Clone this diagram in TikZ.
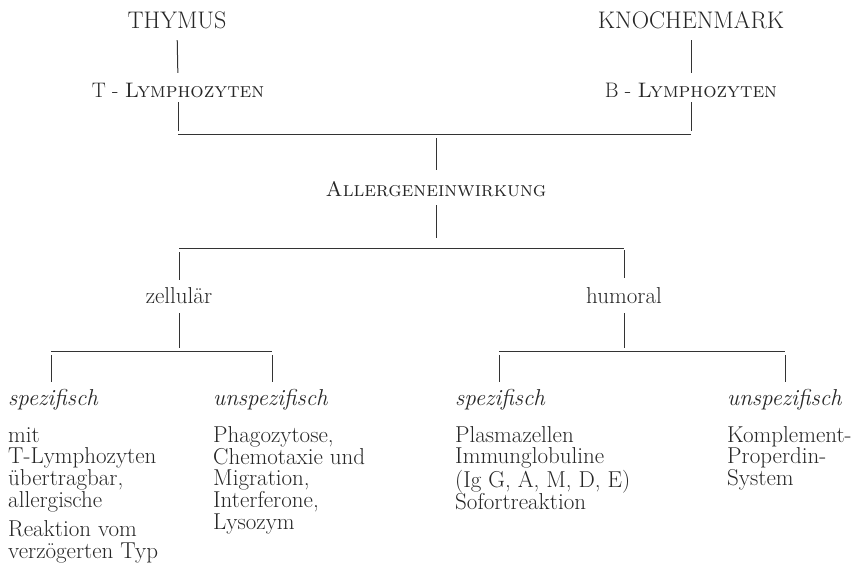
\documentclass[tikz,border=0pt]{standalone}
\usepackage{fontspec}
\newcommand{\blockrows}[1]{{\renewcommand{\arraystretch}{0.9}\begin{tabular}[t]{@{}l@{}}#1\end{tabular}}}
\begin{document}
\begin{tikzpicture}[x=1pt,y=-1pt,
  lbl/.style={inner sep=0pt, text=black!85, font=\fontsize{23}{22}\selectfont, text height=15pt, text depth=0pt, anchor=base},
  sclbl/.style={lbl, font=\fontsize{21}{22}\selectfont},
  big/.style={lbl, font=\fontsize{24}{24}\selectfont},
  head/.style={inner sep=0pt, text=black!85, font=\fontsize{23}{22}\selectfont\itshape, text height=15pt, text depth=0pt, anchor=base west},
  body/.style={inner sep=0pt, text=black!85, font=\fontsize{23}{22}\selectfont, anchor=base west},
  conn/.style={draw=black!80, line width=1pt}]
\useasboundingbox (0,0) rectangle (858,574);

% top sources
\node[big] (thymus) at (177,28) {THYMUS};
\node[big] (knochen) at (691,28) {KNOCHENMARK};
\node[sclbl] (tly) at (178,97) {T - \textsc{Lymphozyten}};
\node[sclbl] (bly) at (691,97) {B - \textsc{Lymphozyten}};
\node[sclbl] (allerg) at (436,196) {\textsc{Allergeneinwirkung}};
\node[lbl] (zell) at (179,303) {zellulär};
\node[lbl] (hum) at (624,303) {humoral};

% headings
\node[head] (sl) at (8,405) {spezifisch};
\node[head] (ul) at (213,405) {unspezifisch};
\node[head] (sr) at (455,405) {spezifisch};
\node[head] (ur) at (727,405) {unspezifisch};

% bodies
\node[body] (bsl) at (8,442) {\blockrows{mit\\T-Lymphozyten\\übertragbar,\\allergische\\[7pt]Reaktion vom\\verzögerten Typ}};
\node[body] (bul) at (213,442) {\blockrows{Phagozytose,\\Chemotaxie und\\Migration,\\Interferone,\\Lysozym}};
\node[body] (bsr) at (455,442) {\blockrows{Plasmazellen\\Immunglobuline\\(Ig G, A, M, D, E)\\Sofortreaktion}};
\node[body] (bur) at (727,442) {\blockrows{Komplement-\\Properdin-\\System}};

% junction coordinates
\coordinate (j1l) at (178,134);
\coordinate (j1r) at (691,134);
\coordinate (j1m) at (436,134);
\coordinate (j2l) at (179,248);
\coordinate (j2r) at (624,248);
\coordinate (j2m) at (436,248);
\coordinate (j3l) at (51,351);
\coordinate (j3r) at (272,351);
\coordinate (j3m) at (179,351);
\coordinate (j4l) at (499,351);
\coordinate (j4r) at (785,351);
\coordinate (j4m) at (624,351);

% connectors
\draw[conn, shorten <=12pt, shorten >=9pt] (thymus.south) -- (tly.north);
\draw[conn, shorten <=12pt, shorten >=9pt] (knochen.south) -- (bly.north);
\draw[conn, shorten <=5pt, shorten >=3pt] (tly.south) -- (j1l);
\draw[conn, shorten <=5pt, shorten >=3pt] (bly.south) -- (j1r);
\draw[conn] (j1l) -- (j1r);
\draw[conn, shorten <=4pt, shorten >=11pt] (j1m) -- (allerg.north);
\draw[conn, shorten <=9pt, shorten >=10pt] (allerg.south) -- (j2m);
\draw[conn] (j2l) -- (j2r);
\draw[conn, shorten <=4pt, shorten >=8pt] (j2l) -- (zell.north);
\draw[conn, shorten <=2pt, shorten >=10pt] (j2r) -- (hum.north);
\draw[conn, shorten <=10pt, shorten >=3pt] (zell.south) -- (j3m);
\draw[conn, shorten <=10pt, shorten >=3pt] (hum.south) -- (j4m);
\draw[conn] (j3l) -- (j3r);
\draw[conn] (j4l) -- (j4r);
\draw[conn, shorten <=4pt, shorten >=8pt] (j3l) -- (j3l |- sl.north);
\draw[conn, shorten <=4pt, shorten >=8pt] (j3r) -- (j3r |- ul.north);
\draw[conn, shorten <=4pt, shorten >=8pt] (j4l) -- (j4l |- sr.north);
\draw[conn, shorten <=4pt, shorten >=8pt] (j4r) -- (j4r |- ur.north);
\end{tikzpicture}
\end{document}
